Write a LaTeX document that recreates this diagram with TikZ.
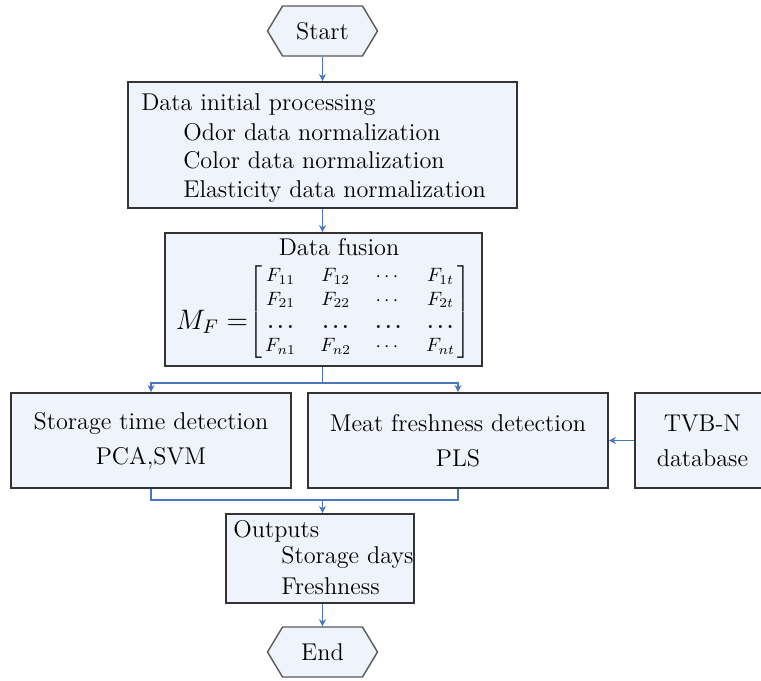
\documentclass[tikz,border=0pt]{standalone}
\usepackage{fix-cm}
\usepackage{amsmath}
\usetikzlibrary{shapes.symbols,arrows.meta}
\definecolor{boxfill}{HTML}{EFF3FB}
\definecolor{boxline}{HTML}{333333}
\definecolor{flowblue}{HTML}{4A76C0}
\begin{document}
\begin{tikzpicture}[x=0.02cm, y=-0.02cm,
    font=\fontsize{13.8}{16}\selectfont,
    stage/.style={draw=boxline, line width=1.1pt, fill=boxfill, inner sep=0pt},
    terminal/.style={signal, signal to=west and east, signal pointer angle=118,
        draw=gray!70!black, line width=0.8pt, fill=boxfill, inner sep=0pt,
        minimum width=2.2cm, minimum height=1cm},
    flow/.style={flowblue, line width=0.8pt, -{Stealth[length=4pt,width=4pt]}},
    link/.style={flowblue, line width=0.8pt}]
    \useasboundingbox (0,0) rectangle (761,680);
    % start / end
    \node[terminal] (start) at (322.5,31) {Start};
    \node[terminal] (end) at (322.5,652) {End};
    % data initial processing
    \node[stage, minimum width=7.78cm, minimum height=2.52cm] (proc) at (322.5,145) {};
    \node[anchor=base west, inner sep=0pt] (proctitle) at (141,110) {Data initial processing};
    \node[anchor=base west, inner sep=0pt] (odor) at (183,140) {Odor data normalization};
    \node[anchor=base west, inner sep=0pt] (color) at (183,168) {Color data normalization};
    \node[anchor=base west, inner sep=0pt] (elast) at (183,197) {Elasticity data normalization};
    % data fusion
    \node[stage, minimum width=6.34cm, minimum height=2.66cm] (fusion) at (323.5,299.5) {};
    \node (fusiontitle) at (339,247) {Data fusion};
    \node[inner sep=0pt] (mflabel) at (212,322) {\fontsize{16}{18}\selectfont $M_F =$};
    \node[inner sep=0pt] (mfmat) at (360,312) {\fontsize{11}{12}\selectfont
        \setlength\arraycolsep{7pt}\renewcommand{\arraystretch}{1.1}%
        $\left[\,\begin{matrix}
            F_{11} & F_{12} & \cdots & F_{1t}\\
            F_{21} & F_{22} & \cdots & F_{2t}\\
            \boldsymbol{\ldots} & \boldsymbol{\ldots} & \boldsymbol{\ldots} & \boldsymbol{\ldots}\\
            F_{n1} & F_{n2} & \cdots & F_{nt}
        \end{matrix}\,\right]$};
    % detection
    \node[stage, minimum width=5.6cm, minimum height=1.9cm, align=center] (storage) at (151,440.5)
        {Storage time detection\\[4pt]PCA,SVM};
    \node[stage, minimum width=6cm, minimum height=1.9cm, align=center] (meat) at (458,440.5)
        {Meat freshness detection\\[4pt]PLS};
    \node[stage, minimum width=2.7cm, minimum height=1.9cm, align=center] (tvbn) at (702.5,440.5)
        {TVB-N\\[4pt]database};
    % outputs
    \node[stage, minimum width=3.76cm, minimum height=1.78cm] (out) at (320,558.5) {};
    \node[anchor=base west, inner sep=0pt] (outtitle) at (233,537) {Outputs};
    \node[anchor=base west, inner sep=0pt] (days) at (281,563) {Storage days};
    \node[anchor=base west, inner sep=0pt] (fresh) at (281,594) {Freshness};
    % connectors
    \draw[flow] (start.south) -- (proc.north -| start.south);
    \draw[flow] (proc.north |- proc.south) -- (fusion.north -| proc.south);
    \coordinate (split) at (322.5,383);
    \coordinate (merge) at (322.5,500);
    \draw[link] (fusion.south -| split) -- (split);
    \draw[flow] (split) -| (storage.north);
    \draw[flow] (split) -| (meat.north);
    \draw[flow] (tvbn.west) -- (meat.east);
    \draw[link] (storage.south) |- (merge) -| (meat.south);
    \draw[flow] (merge) -- (out.north -| merge);
    \draw[flow] (out.south -| end.north) -- (end.north);
\end{tikzpicture}
\end{document}
